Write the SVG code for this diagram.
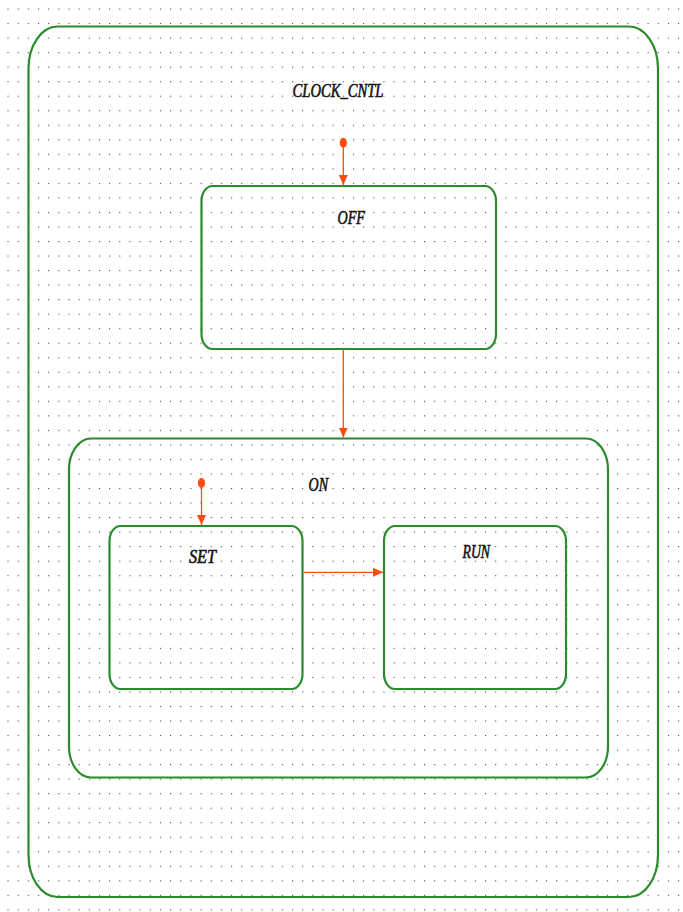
<svg xmlns="http://www.w3.org/2000/svg" width="683" height="912" viewBox="0 0 683 912">
<defs>
<pattern id="grid" patternUnits="userSpaceOnUse" x="7.5" y="8.5" width="10.16" height="14.53">
<rect x="0" y="0" width="1.1" height="1.1" fill="#444"/>
</pattern>
<marker id="ah" markerUnits="userSpaceOnUse" markerWidth="12" markerHeight="12" refX="10" refY="5" orient="auto">
<path d="M0,0.5 L10,5 L0,9.5 Z" fill="#ff4a10"/>
</marker>
</defs>
<style>
.st{fill:none;stroke:#2b8a2b;stroke-width:2.2}
.lbl{font-family:"Liberation Serif",serif;font-style:italic;font-size:14.5px;fill:#111;stroke:#111;stroke-width:0.45}
.tr{fill:none;stroke:#ff4a10;stroke-width:1.3}
.init{fill:#ff4a10}
</style>
<rect width="683" height="912" fill="#fff"/>
<rect width="683" height="912" fill="url(#grid)"/>
<g id="CLOCK_CNTL">
<rect class="st" x="28.5" y="26.5" width="629.5" height="870.5" rx="29" ry="42"/>
<text class="lbl" transform="translate(292.5,96.5) scale(1,1.3)" textLength="91" lengthAdjust="spacingAndGlyphs">CLOCK_CNTL</text>
</g>
<g id="OFF">
<rect class="st" x="201.5" y="186" width="294.5" height="163" rx="11" ry="15"/>
<text class="lbl" transform="translate(337.5,224) scale(1,1.3)" textLength="27.5" lengthAdjust="spacingAndGlyphs">OFF</text>
</g>
<g id="ON">
<rect class="st" x="69" y="438.5" width="539" height="339" rx="22" ry="31"/>
<text class="lbl" transform="translate(308.5,491) scale(1,1.3)" textLength="19.5" lengthAdjust="spacingAndGlyphs">ON</text>
</g>
<g id="SET">
<rect class="st" x="109.5" y="526" width="193" height="163" rx="11" ry="15"/>
<text class="lbl" transform="translate(189,562.5) scale(1,1.3)" textLength="27" lengthAdjust="spacingAndGlyphs">SET</text>
</g>
<g id="RUN">
<rect class="st" x="384" y="526" width="182" height="163" rx="11" ry="15"/>
<text class="lbl" transform="translate(462.5,557.5) scale(1,1.3)" textLength="27.5" lengthAdjust="spacingAndGlyphs">RUN</text>
</g>
<g id="connectors">
<ellipse class="init" cx="343.3" cy="142.8" rx="3.6" ry="5"/>
<line class="tr" x1="343.3" y1="145" x2="343.3" y2="185" marker-end="url(#ah)"/>
<line class="tr" x1="343.3" y1="349.5" x2="343.3" y2="437.5" marker-end="url(#ah)"/>
<ellipse class="init" cx="201.5" cy="483" rx="3.6" ry="5"/>
<line class="tr" x1="201.5" y1="485" x2="201.5" y2="525" marker-end="url(#ah)"/>
<line class="tr" x1="303.5" y1="572.3" x2="383" y2="572.3" marker-end="url(#ah)"/>
</g>
</svg>
